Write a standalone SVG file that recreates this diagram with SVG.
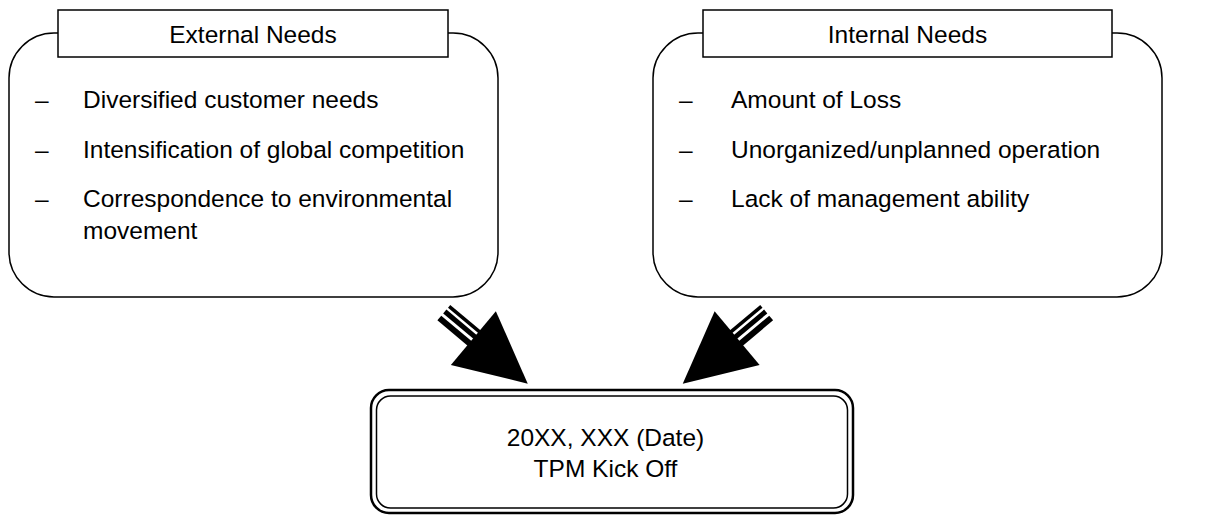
<svg xmlns="http://www.w3.org/2000/svg" width="1215" height="515" viewBox="0 0 1215 515">
<style>
text{font-family:"Liberation Sans",Arial,sans-serif;font-size:24.5px;fill:#000}
.box{fill:#fff;stroke:#000;stroke-width:1.5}
.c{text-anchor:middle}
</style>
<defs>
<g id="arrow">
<rect x="0" y="-10.5" width="41" height="3.5" fill="#000"/>
<rect x="0" y="-4.5" width="41" height="5" fill="#000"/>
<rect x="0" y="3.5" width="41" height="6" fill="#000"/>
<polygon points="39,-35 110,0 39,35" fill="#000"/>
</g>
</defs>
<rect width="1215" height="515" fill="#fff"/>
<g id="external">
<rect class="box" x="9" y="33" width="489" height="264" rx="45" ry="45"/>
<rect class="box" x="58" y="10" width="390" height="47"/>
<text class="c" x="253" y="43">External Needs</text>
<text x="35" y="108">–</text><text x="83" y="108">Diversified customer needs</text>
<text x="35" y="158">–</text><text x="83" y="158">Intensification of global competition</text>
<text x="35" y="207">–</text><text x="83" y="207">Correspondence to environmental</text>
<text x="83" y="239">movement</text>
</g>
<g id="internal">
<rect class="box" x="653" y="33" width="509" height="264" rx="45" ry="45"/>
<rect class="box" x="703" y="10" width="409" height="47"/>
<text class="c" x="907.5" y="43">Internal Needs</text>
<text x="679" y="108">–</text><text x="731" y="108">Amount of Loss</text>
<text x="679" y="158">–</text><text x="731" y="158">Unorganized/unplanned operation</text>
<text x="679" y="207">–</text><text x="731" y="207">Lack of management ability</text>
</g>
<g id="connectors">
<use href="#arrow" transform="translate(443.5,313) rotate(40)"/>
<use href="#arrow" transform="translate(767,313) scale(-1,1) rotate(40)"/>
</g>
<g id="kickoff">
<rect x="371" y="390" width="482" height="123" rx="18" ry="18" fill="#fff" stroke="#000" stroke-width="2.5"/>
<rect x="376.5" y="396" width="471" height="112" rx="14" ry="14" fill="none" stroke="#000" stroke-width="1.5"/>
<text class="c" x="605.5" y="446">20XX, XXX (Date)</text>
<text class="c" x="605.5" y="477">TPM Kick Off</text>
</g>
</svg>
